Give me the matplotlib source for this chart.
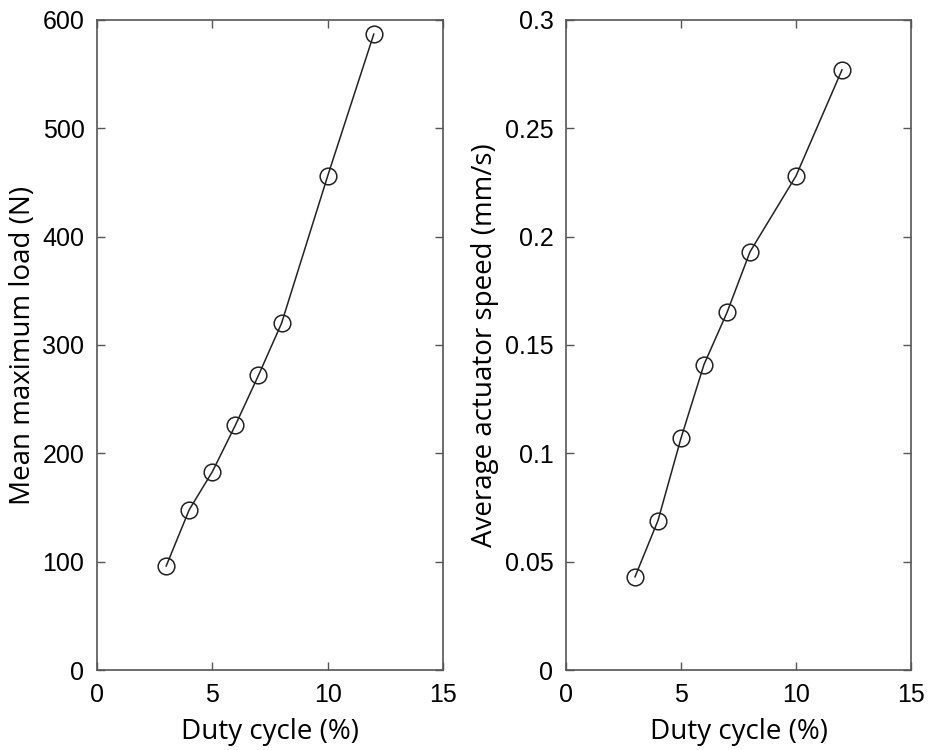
import matplotlib
matplotlib.use("Agg")
import matplotlib.pyplot as plt

# data
duty = [3, 4, 5, 6, 7, 8, 10, 12]
max_load = [96, 148, 183, 226, 272, 320, 456, 587]
act_speed = [0.043, 0.069, 0.107, 0.141, 0.165, 0.193, 0.228, 0.277]

plt.rcParams["font.family"] = ["Liberation Sans", "DejaVu Sans"]

fig = plt.figure(figsize=(9.29, 7.5), dpi=100)
ax1 = fig.add_axes([97 / 929, 80 / 750, 346 / 929, 650 / 750])
ax2 = fig.add_axes([566 / 929, 80 / 750, 345 / 929, 650 / 750])


def style(ax, ylab):
    ax.set_xlim(0, 15)
    ax.set_xticks([0, 5, 10, 15])
    ax.tick_params(direction="in", top=True, right=True, length=6,
                   width=1, color="#555555", labelsize=18, pad=9)
    for sp in ax.spines.values():
        sp.set_color("#555555")
        sp.set_linewidth(1.2)
    ax.set_xlabel("Duty cycle (%)", fontsize=20, family="Open Sans",
                  labelpad=8)
    ax.set_ylabel(ylab, fontsize=20, family="Open Sans", labelpad=4)


ax1.plot(duty, max_load, "-o", color="#222222", lw=1.1, ms=12,
         mfc="none", mew=1.1)
ax1.set_ylim(0, 600)
ax1.set_yticks(range(0, 601, 100))
style(ax1, "Mean maximum load (N)")

ax2.plot(duty, act_speed, "-o", color="#222222", lw=1.1, ms=12,
         mfc="none", mew=1.1)
ax2.set_ylim(0, 0.3)
ax2.set_yticks([0, 0.05, 0.1, 0.15, 0.2, 0.25, 0.3])
ax2.set_yticklabels(["0", "0.05", "0.1", "0.15", "0.2", "0.25", "0.3"])
style(ax2, "Average actuator speed (mm/s)")

fig.savefig("out.png", dpi=100)
